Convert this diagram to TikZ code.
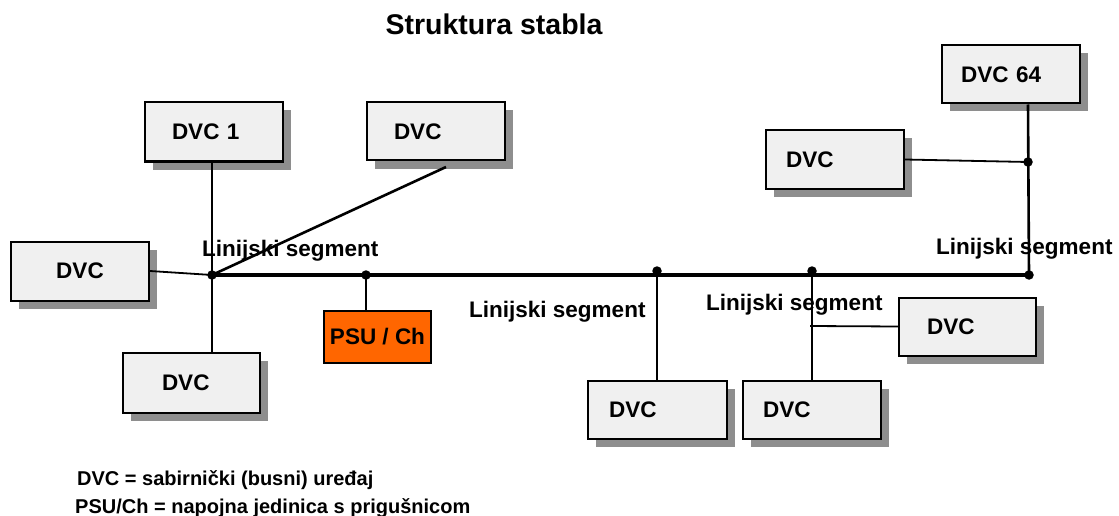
\documentclass[tikz,border=0pt]{standalone}
\usepackage{fontspec}
\setmainfont{Liberation Sans}
\usetikzlibrary{shadows}
\definecolor{boxfill}{HTML}{F0F0F0}
\definecolor{shadowgray}{HTML}{8E8E8E}
\definecolor{psuorange}{HTML}{FF6600}
\begin{document}
\begin{tikzpicture}[x=1pt,y=-1pt,
  dvc/.style 2 args={draw, line width=2pt, fill=boxfill,
    general shadow={fill=shadowgray, shadow xshift=8pt, shadow yshift=-8pt},
    minimum height=59pt, inner ysep=0pt, inner xsep=#1, text width=#2,
    align=left, font=\fontsize{22.5}{26}\selectfont\bfseries},
  psubox/.style={draw, line width=2pt, fill=psuorange, minimum width=107pt,
    minimum height=52pt, inner sep=0pt, font=\fontsize{22.5}{26}\selectfont\bfseries},
  seglabel/.style={anchor=base west, inner sep=0pt, font=\fontsize{22.5}{26}\selectfont\bfseries},
  legend/.style={anchor=base west, inner sep=0pt, font=\fontsize{20}{24}\selectfont\bfseries},
  bus/.style={line width=3.3pt},
  branch/.style={line width=2.6pt},
  thinline/.style={line width=1.8pt},
  dot/.style={circle, fill=black, inner sep=0pt, minimum size=9.5pt}
]
\useasboundingbox (0,0) rectangle (1119,516);

% title
\node[anchor=base, inner sep=0pt, font=\fontsize{28.5}{32}\selectfont\bfseries] (title) at (494,35) {Struktura stabla};

% boxes
\node[dvc={27pt}{84pt}] (d1) at (214,132) {DVC 1};
\node[dvc={27pt}{84pt}, minimum height=58pt] (dtm) at (436,131.5) {DVC};
\node[dvc={25pt}{88pt}, align=center] (dl) at (80,271) {DVC};
\node[dvc={39pt}{59pt}, minimum height=60pt] (dbl) at (191.5,382.5) {DVC};
\node[psubox] (psu) at (377.5,336.5) {PSU / Ch};
\node[dvc={21pt}{97pt}, minimum height=58pt] (dba) at (657.5,409.5) {DVC};
\node[dvc={20pt}{98pt}, minimum height=58pt] (dbb) at (812,409.5) {DVC};
\node[dvc={28pt}{81pt}, minimum height=58pt] (dr) at (967.5,326.5) {DVC};
\node[dvc={20pt}{98pt}, minimum height=58pt] (dur) at (835,159.5) {DVC};
\node[dvc={19pt}{100pt}, minimum height=58pt] (d64) at (1011,74.5) {DVC 64};

% junction coordinates
\coordinate (j1) at (212,275);
\coordinate (j2) at (366,275);
\coordinate (j3) at (657,271);
\coordinate (j4) at (812,271);
\coordinate (j5) at (1029,275);
\coordinate (j6) at (1028,162);
\coordinate (tmc) at (446,167);
\coordinate (j4b) at (810,326);

% bus
\draw[bus] (j1) -- (j5);
% left branches
\draw[thinline] (dl.east) -- (j1);
\draw[branch] (j1 |- d1.south) -- (j1 |- dbl.north);
\draw[line width=2.6pt] (j1) -- (tmc);
\draw[branch] (j2) -- (j2 |- psu.north);
% middle branches
\draw[branch] (j3) -- (j3 |- dba.north);
\draw[branch] (j4) -- (j4 |- dbb.north);
\draw[thinline] (j4b) -- (dr.west);
% right branch
\draw[branch] (j6 |- d64.south) -- (j5);
\draw[thinline] (dur.east) -- (j6);

% dots
\node[dot] (k1) at (j1) {};
\node[dot] (k2) at (j2) {};
\node[dot] (k3) at (j3) {};
\node[dot] (k4) at (j4) {};
\node[dot] (k5) at (j5) {};
\node[dot] (k6) at (j6) {};

% segment labels
\node[seglabel] (s1) at (202,256) {Linijski segment};
\node[seglabel] (s2) at (469,317) {Linijski segment};
\node[seglabel] (s3) at (706,310) {Linijski segment};
\node[seglabel] (s4) at (936,254) {Linijski segment};

% legend
\node[legend] (l1) at (77,485) {DVC = sabirnički (busni) uređaj};
\node[legend] (l2) at (75,513) {PSU/Ch = napojna jedinica s prigušnicom};
\end{tikzpicture}
\end{document}
